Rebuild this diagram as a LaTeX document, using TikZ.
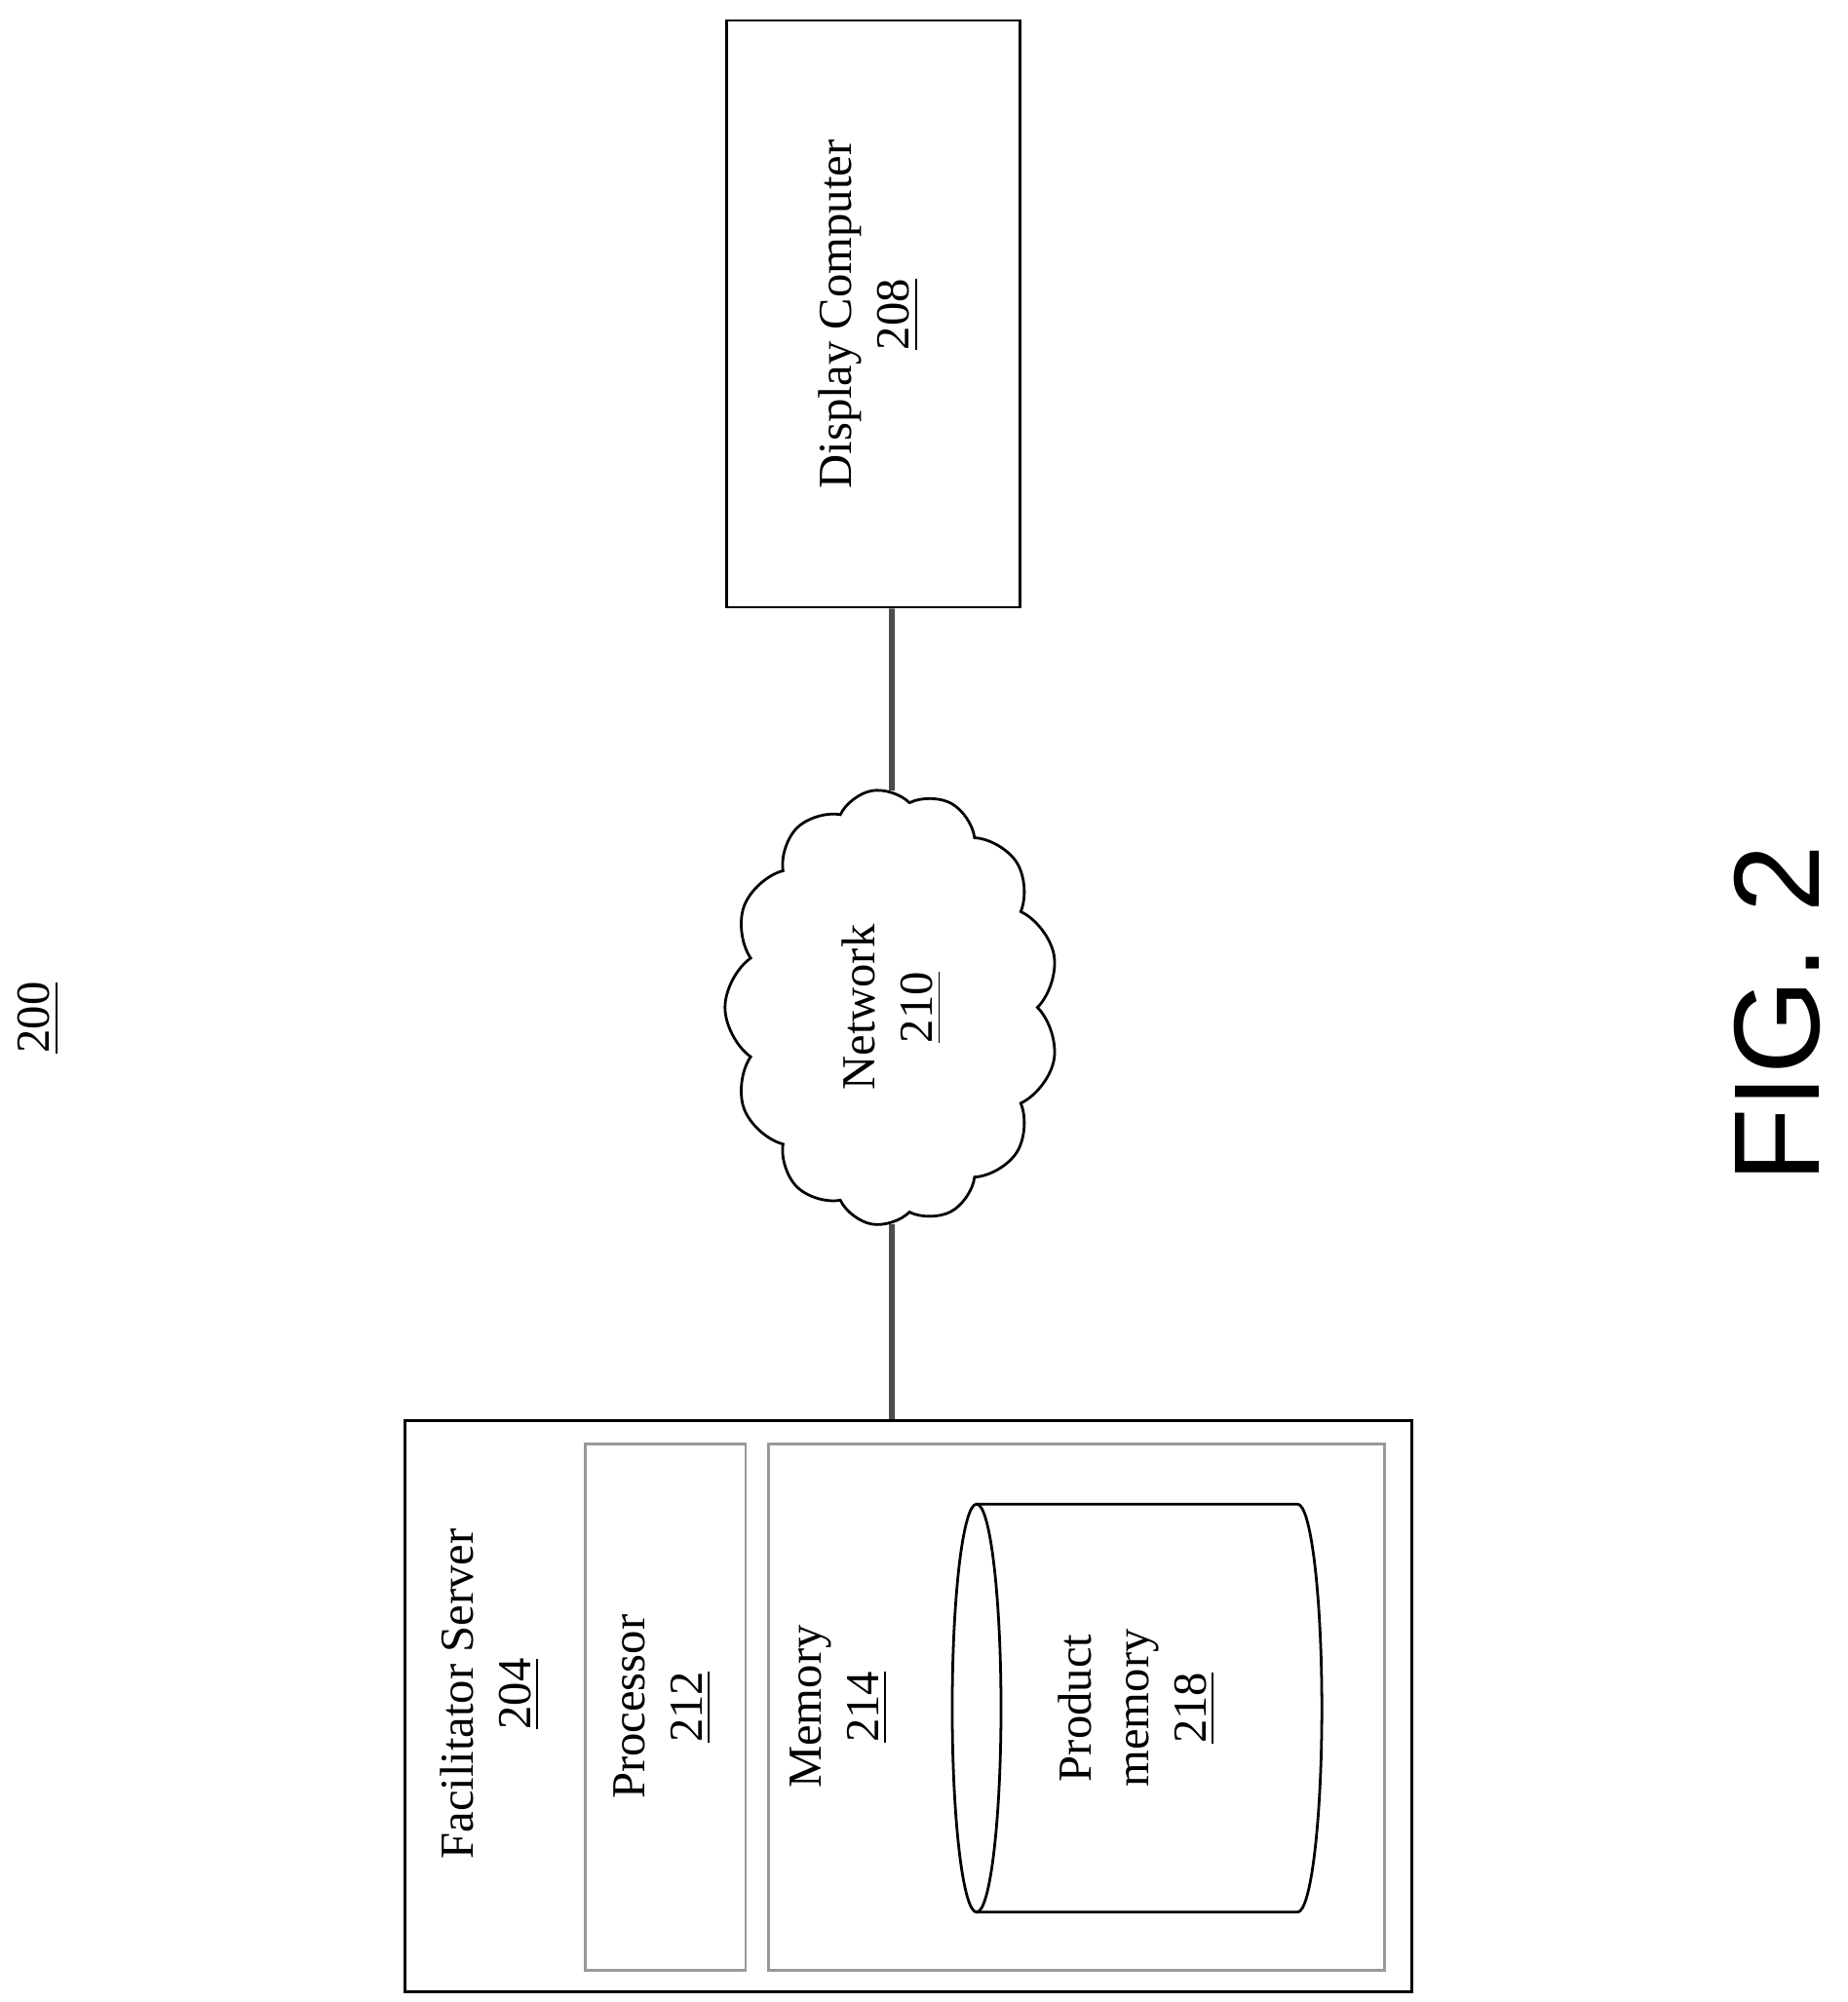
\documentclass[tikz,border=0pt]{standalone}
\usepackage{fontspec}
\setmainfont{Liberation Serif}
\newfontfamily\figfont{Liberation Sans}
\usetikzlibrary{shapes.symbols,backgrounds}
\tikzset{
  box/.style={draw, line width=0.6pt, inner sep=0pt},
  inbox/.style={draw=gray!80, line width=0.6pt, inner sep=0pt},
  lbl/.style={rotate=90, align=center, font=\fontsize{10.5}{12.7}\selectfont},
  link/.style={draw=gray!60!black, line width=1.3pt}
}
\begin{document}
\begin{tikzpicture}[x=0.01cm, y=-0.01cm]
  \useasboundingbox (0,0) rectangle (1440,1560);

  \node[lbl] (fignum) at (30,793) {\underline{200}};

  % display computer
  \node[box, minimum width=2.29cm, minimum height=4.57cm] (disp) at (680.5,244.5) {};
  \node[lbl] (displbl) at (677,245) {Display Computer\\\underline{208}};

  % network
  \node[draw, fill=white, line width=0.6pt, shape=cloud, cloud puffs=13, cloud puff arc=110,
        aspect=1.3, minimum width=3.4cm, minimum height=2.6cm, rotate=90,
        align=center, font=\fontsize{10.5}{12.7}\selectfont] (net) at (695,785)
        {Network\\\underline{210}};

  % facilitator server
  \node[box, minimum width=7.84cm, minimum height=4.45cm] (server) at (708,1329.5) {};
  \node[lbl] (serverlbl) at (382,1320) {Facilitator Server\\\underline{204}};
  \node[inbox, minimum width=1.25cm, minimum height=4.1cm] (proc) at (518.5,1330) {};
  \node[lbl] (proclbl) at (516,1330) {Processor\\\underline{212}};
  \node[inbox, minimum width=4.8cm, minimum height=4.1cm] (mem) at (839,1330) {};
  \node[lbl] (memlbl) at (654,1330) {Memory\\\underline{214}};

  % product memory
  \draw[line width=0.6pt] (761,1172) -- (1011,1172)
    arc[start angle=90, end angle=-90, x radius=19, y radius=-159]
    -- (761,1490);
  \draw[line width=0.6pt] (761,1331) ellipse[x radius=19, y radius=159];
  \node (prodmem) at (886,1331) {};
  \node[lbl] (prodmemlbl) at (886,1331) {Product\\memory\\\underline{218}};

  \node[rotate=90, font=\figfont\fontsize{27}{32}\selectfont] (figcap) at (1385,790) {FIG. 2};

  \begin{scope}[on background layer]
    \draw[link] (net) -- (net |- disp.south);
    \draw[link] (net) -- (net |- server.north);
  \end{scope}
\end{tikzpicture}
\end{document}
